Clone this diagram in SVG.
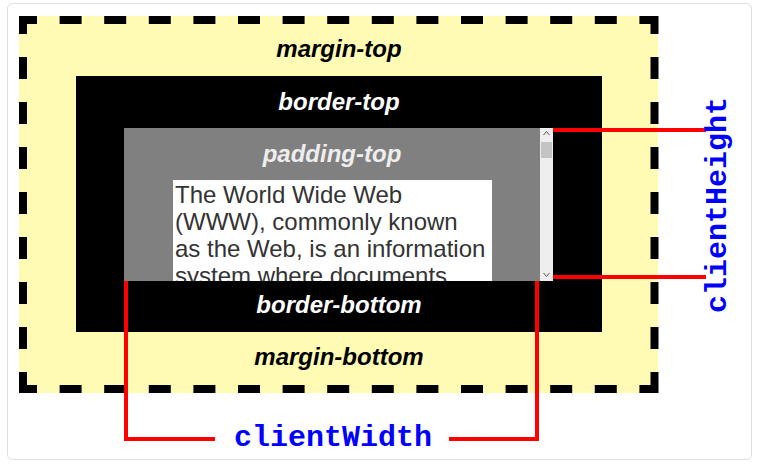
<svg xmlns="http://www.w3.org/2000/svg" width="760" height="467" viewBox="0 0 760 467">
  <style>
    .lbl { font-family: "Liberation Sans", Arial, sans-serif; font-weight: bold; font-style: italic; font-size: 24px; text-anchor: middle; }
    .body { font-family: "Liberation Sans", Arial, sans-serif; font-size: 24px; fill: #333333; }
    .code { font-family: "Liberation Mono", "Courier New", monospace; font-weight: bold; font-size: 30px; fill: #0000ff; text-anchor: middle; }
    .dash { stroke: #000000; stroke-width: 8; fill: none; stroke-dasharray: 22 23; stroke-dashoffset: 4; }
    .dashh { stroke-dasharray: 22 22.6; }
    .red { stroke: #ff0000; stroke-width: 4; fill: none; }
  </style>
  <defs>
    <clipPath id="contentClip">
      <rect x="173" y="180" width="319" height="101"/>
    </clipPath>
  </defs>
  <rect x="0" y="0" width="760" height="467" fill="#ffffff"/>
  <rect x="7.5" y="3.5" width="744" height="456" rx="5" fill="#ffffff" stroke="#dddddd" stroke-width="1"/>

  <g id="margin">
    <rect x="19" y="16" width="639" height="377" fill="#fffbb4"/>
    <line class="dash dashh" x1="19" y1="20" x2="658" y2="20"/>
    <line class="dash dashh" x1="19" y1="389" x2="658" y2="389"/>
    <line class="dash" x1="23" y1="16" x2="23" y2="393"/>
    <line class="dash" x1="654.5" y1="16" x2="654.5" y2="393"/>
    <text class="lbl" x="339" y="57" fill="#000000">margin-top</text>
    <text class="lbl" x="339" y="365" fill="#000000">margin-bottom</text>
  </g>

  <g id="border">
    <rect x="76" y="76" width="526" height="256" fill="#000000"/>
    <text class="lbl" x="339" y="110" fill="#ffffff">border-top</text>
    <text class="lbl" x="339" y="313" fill="#ffffff">border-bottom</text>
  </g>

  <g id="padding">
    <rect x="124" y="128" width="429" height="153" fill="#808080"/>
    <text class="lbl" x="332" y="162" fill="#eeeeee">padding-top</text>
  </g>

  <g id="scrollbar">
    <rect x="540" y="128" width="13" height="153" fill="#eeeeee"/>
    <rect x="541" y="142" width="11" height="16" fill="#c4c4c4"/>
    <path d="M543.5 135 L546.5 131.5 L549.5 135" fill="none" stroke="#555555" stroke-width="1"/>
    <path d="M543.5 273 L546.5 276.5 L549.5 273" fill="none" stroke="#555555" stroke-width="1"/>
  </g>

  <g id="content">
    <rect x="173" y="180" width="319" height="101" fill="#ffffff"/>
    <g clip-path="url(#contentClip)">
      <text class="body" x="175" y="203">The World Wide Web</text>
      <text class="body" x="175" y="230">(WWW), commonly known</text>
      <text class="body" x="175" y="257">as the Web, is an information</text>
      <text class="body" x="175" y="284">system where documents</text>
    </g>
  </g>

  <g id="connectors">
    <line class="red" x1="553" y1="130" x2="706" y2="130"/>
    <line class="red" x1="553" y1="277" x2="706" y2="277"/>
    <polyline class="red" points="126,281 126,439 215,439"/>
    <polyline class="red" points="537,281 537,439 449,439"/>
  </g>

  <g id="clientHeight">
    <text class="code" transform="translate(726,205) rotate(-90)" x="0" y="0">clientHeight</text>
  </g>
  <g id="clientWidth">
    <text class="code" x="333" y="446">clientWidth</text>
  </g>
</svg>
